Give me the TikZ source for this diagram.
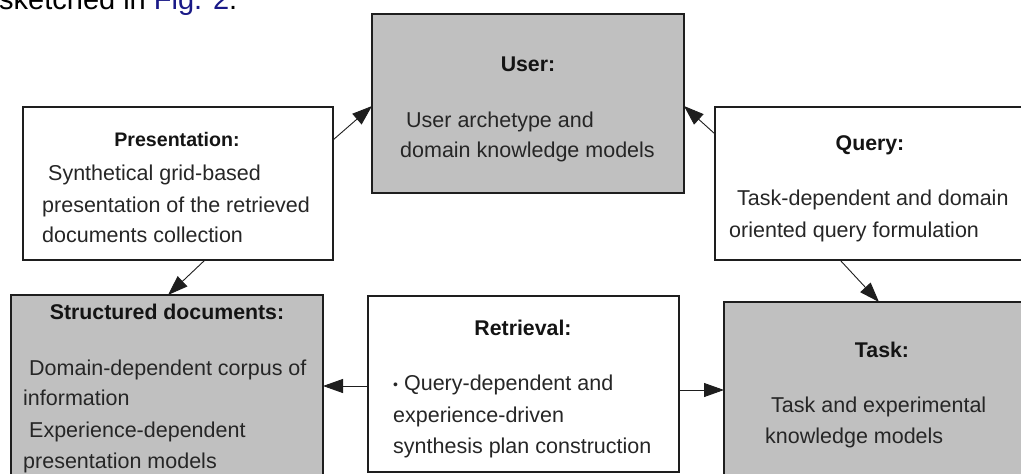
\documentclass[tikz,border=0pt]{standalone}
\usepackage{fontspec}
\setmainfont{Liberation Sans}
\usetikzlibrary{arrows.meta}
\definecolor{boxgray}{RGB}{192,192,192}
\definecolor{txt}{RGB}{38,38,38}
\definecolor{linkblue}{RGB}{25,25,135}
\definecolor{edge}{RGB}{30,30,30}
\begin{document}
\begin{tikzpicture}[x=1pt,y=-1pt,
  box/.style={draw=edge, line width=1.4pt, rectangle, inner sep=0pt, outer sep=0pt},
  graybox/.style={box, fill=boxgray},
  whitebox/.style={box, fill=white},
  title/.style={font=\fontsize{21.3}{24}\selectfont\bfseries, text=black!92, anchor=base, inner sep=0pt},
  body/.style={font=\fontsize{21.5}{24}\selectfont, text=txt, anchor=base west, inner sep=0pt},
  conn/.style={line width=0.9pt, draw=edge, -{Triangle[length=20pt,width=14pt]}}]
\useasboundingbox (0,0) rectangle (1021,474);
\clip (0,0) rectangle (1021,474);

% top caption fragment
\node[anchor=base west, inner sep=0pt, font=\fontsize{29}{32}\selectfont, text=black] (cap) at (-1,9)
  {sketched in \textcolor{linkblue}{Fig. 2}.};

% boxes
\node[graybox, minimum width=312pt, minimum height=179pt] (user) at (528,103.5) {};
\node[whitebox, minimum width=310pt, minimum height=153pt] (pres) at (178,183.5) {};
\node[whitebox, minimum width=310pt, minimum height=153pt] (query) at (870,183.5) {};
\node[graybox, minimum width=312pt, minimum height=185pt] (struct) at (167,387.5) {};
\node[whitebox, minimum width=311pt, minimum height=176pt] (retr) at (523.5,384) {};
\node[graybox, minimum width=316pt, minimum height=178pt] (task) at (882,391) {};

% User
\node[title] (userT) at (528,71) {User:};
\node[body] (userL1) at (406,127) {User archetype and};
\node[body] (userL2) at (400,157) {domain knowledge models};

% Presentation
\node[title, font=\fontsize{19.6}{22}\selectfont\bfseries] (presT) at (177,146) {Presentation:};
\node[body] (presL1) at (48,180) {Synthetical grid-based};
\node[body] (presL2) at (42,212) {presentation of the retrieved};
\node[body] (presL3) at (42,242) {documents collection};

% Query
\node[title] (queryT) at (870,150) {Query:};
\node[body] (queryL1) at (737,205) {Task-dependent and domain};
\node[body] (queryL2) at (729,237) {oriented query formulation};

% Structured documents
\node[title] (structT) at (167,319) {Structured documents:};
\node[body] (structL1) at (29,375) {Domain-dependent corpus of};
\node[body] (structL2) at (23,405) {information};
\node[body] (structL3) at (29,437) {Experience-dependent};
\node[body] (structL4) at (23,468) {presentation models};

% Retrieval
\node[title] (retrT) at (523,335) {Retrieval:};
\node[body] (retrL1) at (393,390) {\raisebox{1pt}{\fontsize{14}{16}\selectfont•} Query-dependent and};
\node[body] (retrL2) at (393,422) {experience-driven};
\node[body] (retrL3) at (393,453) {synthesis plan construction};

% Task
\node[title] (taskT) at (882,357) {Task:};
\node[body] (taskL1) at (771,412) {Task and experimental};
\node[body] (taskL2) at (765,443) {knowledge models};

% connectors
\draw[conn] ([yshift=-33pt]pres.north east) -- ([yshift=-92pt]user.north west);
\draw[conn] ([yshift=-27pt]query.north west) -- ([yshift=-92pt]user.north east);
\draw[conn] ([xshift=182pt]pres.south west) -- ([xshift=157pt]struct.north west);
\draw[conn] ([xshift=125pt]query.south west) -- ([xshift=155pt]task.north west);
\draw[conn] ([yshift=-90pt]retr.north west) -- ([yshift=-91pt]struct.north east);
\draw[conn] ([yshift=-94pt]retr.north east) -- ([yshift=-88pt]task.north west);
\end{tikzpicture}
\end{document}
